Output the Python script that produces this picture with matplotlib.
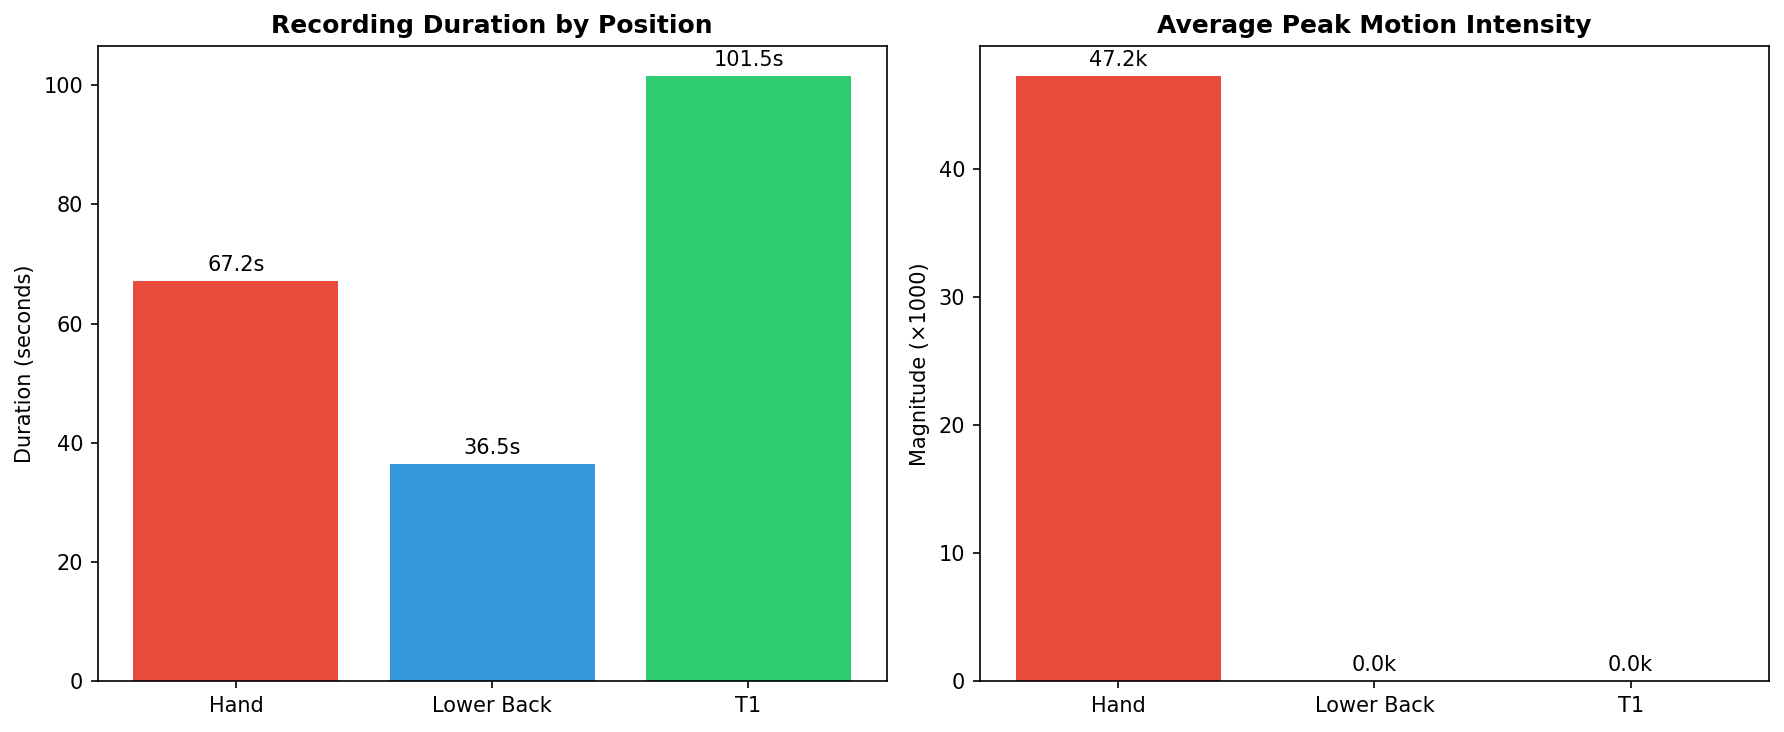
import matplotlib
matplotlib.use("Agg")
import matplotlib.pyplot as plt

positions = ["Hand", "Lower Back", "T1"]
durations = [67.2, 36.5, 101.5]
peak_intensity_k = [47.2, 0.0, 0.0]
colors = ["#e74c3c", "#3498db", "#2ecc71"]

fig, (ax1, ax2) = plt.subplots(1, 2, figsize=(1784 / 150, 732 / 150), dpi=150)
fig.subplots_adjust(left=0.0547, right=0.9916, top=0.9372, bottom=0.069, wspace=0.1178)

bars1 = ax1.bar(positions, durations, color=colors)
ax1.set_title("Recording Duration by Position", fontweight="bold")
ax1.set_ylabel("Duration (seconds)")
for b, v in zip(bars1, durations):
    ax1.text(b.get_x() + b.get_width() / 2, b.get_height() + 1, f"{v:.1f}s",
             ha="center", va="bottom")

bars2 = ax2.bar(positions, peak_intensity_k, color=colors)
ax2.set_title("Average Peak Motion Intensity", fontweight="bold")
ax2.set_ylabel("Magnitude (×1000)")
for b, v in zip(bars2, peak_intensity_k):
    ax2.text(b.get_x() + b.get_width() / 2, b.get_height() + 0.5, f"{v:.1f}k",
             ha="center", va="bottom")

fig.savefig("out.png", dpi=150)
